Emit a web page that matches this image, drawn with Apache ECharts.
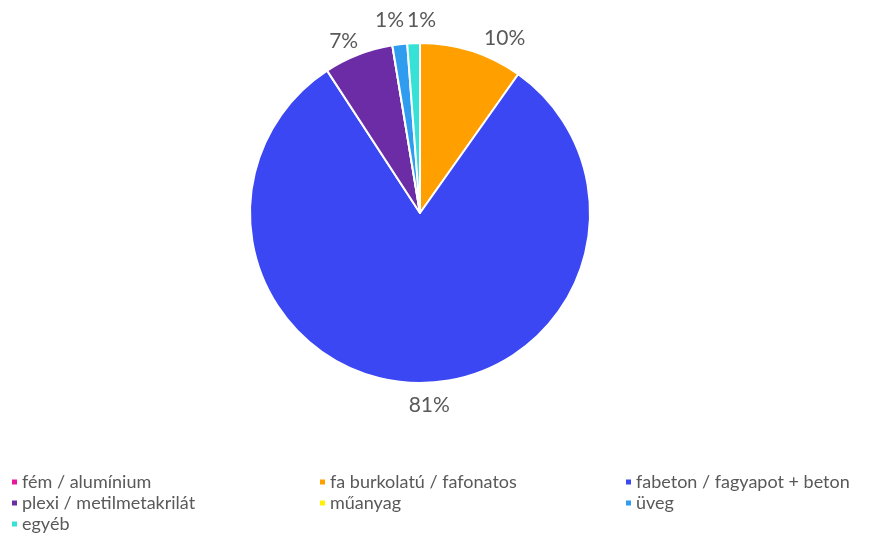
<!DOCTYPE html>
<html>
<head>
<meta charset="utf-8">
<script src="https://cdn.jsdelivr.net/npm/echarts@6/dist/echarts.min.js"></script>
<style>
  html, body { margin: 0; padding: 0; background: #fff; }
  #chart { width: 874px; height: 534px; }
</style>
</head>
<body>
<div id="chart"></div>
<script>
var categories = ['fém / alumínium', 'fa burkolatú / fafonatos', 'fabeton / fagyapot + beton', 'plexi / metilmetakrilát', 'műanyag', 'üveg', 'egyéb'];
var values = [0, 9.8, 81.0, 6.6, 0, 1.4, 1.2];
var colors = ['#E8179E', '#FF9F00', '#3A47F2', '#6B2CA6', '#FFF200', '#2F9CF0', '#36E2D6'];

// legend placement: [left, top] per category (3 columns, row-wise order)
var legendPos = [[10, 472], [318, 472], [624, 472], [10, 493], [318, 493], [624, 493], [10, 514]];
// label nudges to follow the original's label placement
var labelOffset = {
    'fa burkolatú / fafonatos': [25, 13],
    'fabeton / fagyapot + beton': [13, -5],
    'plexi / metilmetakrilát': [-5, 12],
    'üveg': [-7, 3],
    'egyéb': [9, 4]
};

var dom = document.getElementById('chart');
var myChart = echarts.init(dom);

var pieData = categories.map(function (name, i) {
    return { name: name, value: values[i] };
});
var labelData = categories.map(function (name, i) {
    var item = { name: name, value: values[i] };
    if (values[i] === 0) item.label = { show: false };
    if (labelOffset[name]) item.label = { offset: labelOffset[name] };
    return item;
});

var legends = categories.map(function (name, i) {
    return {
        left: legendPos[i][0],
        top: legendPos[i][1],
        itemWidth: 7,
        itemHeight: 7,
        icon: 'rect',
        selectedMode: false,
        padding: 0,
        textStyle: { color: '#595959', fontSize: 18, fontFamily: 'Lato', lineHeight: 20, padding: [0, 0, 0, -1] },
        data: [name]
    };
});

option = {
    color: colors,
    animation: false,
    legend: legends,
    series: [
        {
            type: 'pie',
            center: [420, 213],
            radius: 170,
            startAngle: 90,
            clockwise: true,
            itemStyle: { borderColor: '#fff', borderWidth: 2 },
            label: { show: false },
            labelLine: { show: false },
            emphasis: { scale: false },
            data: pieData
        },
        {
            // transparent ring, only carries the percentage labels
            type: 'pie',
            center: [420, 213],
            radius: [170, 218],
            startAngle: 90,
            clockwise: true,
            silent: true,
            itemStyle: { color: 'rgba(0,0,0,0)' },
            labelLayout: { hideOverlap: false },
            label: {
                show: true,
                position: 'inside',
                formatter: function (p) { return Math.round(p.value) + '%'; },
                color: '#595959',
                fontSize: 21,
                fontFamily: 'Lato'
            },
            labelLine: { show: false },
            data: labelData
        }
    ]
};

if (option && typeof option === "object") {
    myChart.setOption(option, true);
}
</script>
</body>
</html>
